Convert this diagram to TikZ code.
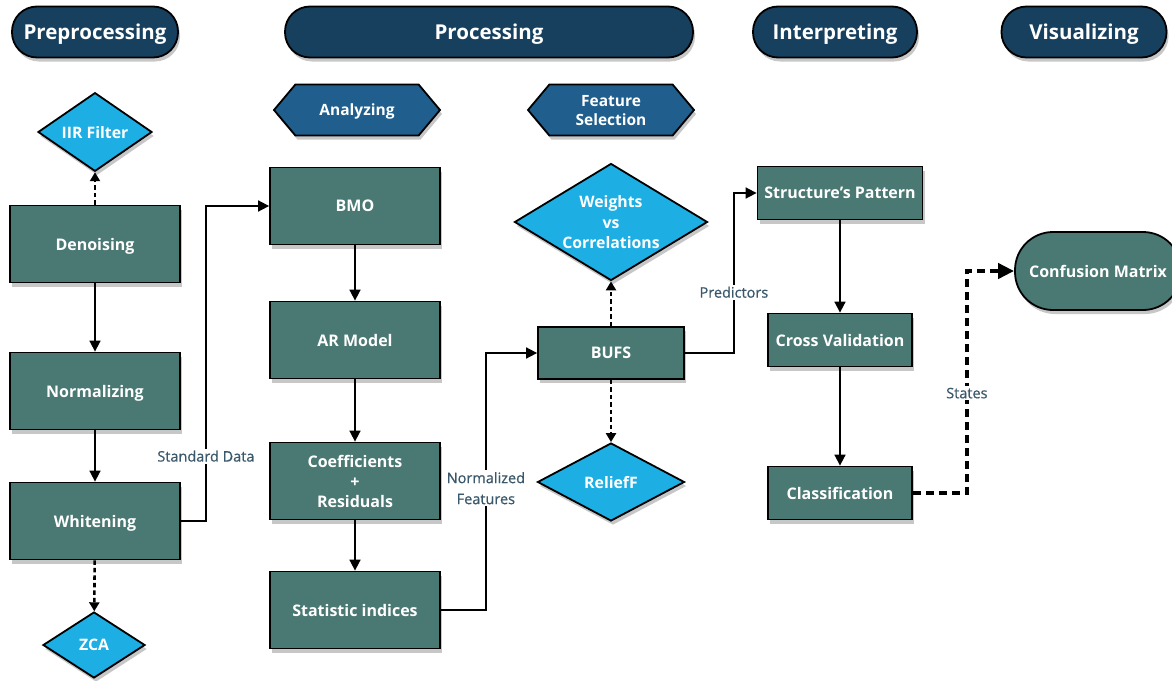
\documentclass[tikz,border=0pt]{standalone}
\usepackage{fontspec}
\setmainfont{Open Sans}
\newfontfamily\labfont{Open Sans}[FakeBold=0.6]
\usetikzlibrary{arrows.meta,shapes.geometric,shapes.symbols,shadows}
\definecolor{hdrnavy}{HTML}{17405F}
\definecolor{hexblue}{HTML}{1F5E8D}
\definecolor{skyb}{HTML}{1DAEE4}
\definecolor{boxteal}{HTML}{4A7873}
\definecolor{lblcol}{HTML}{3A586B}
\begin{document}
\begin{tikzpicture}[x=1pt,y=-1pt,
  shad/.style={drop shadow={shadow xshift=2pt,shadow yshift=-4pt,opacity=0.22,fill=black}},
  header/.style={draw=black,line width=1.8pt,fill=hdrnavy,rounded corners=25pt,minimum height=51pt,text=white,font=\bfseries\fontsize{20.5}{24}\selectfont,text depth=0pt,shad},
  hexa/.style={signal,signal to=west and east,signal pointer angle=100,draw=black,line width=1.8pt,fill=hexblue,minimum height=51pt,minimum width=166pt,text=white,font=\bfseries\fontsize{15.5}{19}\selectfont,align=center,text depth=0pt,shad,inner sep=1pt},
  dia/.style={diamond,draw=black,line width=1.8pt,fill=skyb,text=white,font=\bfseries\fontsize{15.8}{20.5}\selectfont,align=center,text depth=0pt,inner sep=0pt,shad},
  box/.style={rectangle,draw=black,line width=1.8pt,fill=boxteal,text=white,font=\bfseries\fontsize{16}{20}\selectfont,align=center,text depth=0pt,shad},
  pill/.style={box,rounded corners=38pt},
  flow/.style={line width=1.7pt,-{Triangle[length=11pt,width=11pt]}},
  dotflow/.style={line width=2.6pt,dash pattern=on 4.5pt off 3pt,-{Triangle[length=9pt,width=10pt]}},
  bigdash/.style={line width=4.5pt,dash pattern=on 8pt off 5pt,-{Triangle[length=16pt,width=15pt]}},
  lab/.style={fill=white,text=lblcol,font=\labfont\fontsize{14.5}{21}\selectfont,align=center,inner sep=2pt}
]
\useasboundingbox (0,0) rectangle (1172,680);
\fill[white] (0,0) rectangle (1172,680);

% headers
\node[header,minimum width=166pt] (prep) at (95,32) {Preprocessing};
\node[header,minimum width=408pt] (proc) at (489,32) {Processing};
\node[header,minimum width=164pt] (interp) at (835,32) {Interpreting};
\node[header,minimum width=165pt] (visu) at (1084,32) {Visualizing};

% hexagons
\node[hexa] (anal) at (357,110) {Analyzing};
\node[hexa] (fsel) at (611,110) {Feature\\Selection};

% diamonds
\node[dia,minimum width=114pt,minimum height=78pt] (iir) at (95,132) {IIR Filter};
\node[dia,minimum width=102pt,minimum height=66pt] (zca) at (94,645) {ZCA};
\node[dia,shape aspect=1.65,minimum width=193pt,minimum height=117pt] (wvc) at (611,222) {Weights\\vs\\Correlations};
\node[dia,minimum width=147pt,minimum height=78pt] (rel) at (611,482) {ReliefF};

% boxes
\node[box,minimum width=170pt,minimum height=77pt] (den) at (95,244) {Denoising};
\node[box,minimum width=170pt,minimum height=77pt] (nor) at (95,391) {Normalizing};
\node[box,minimum width=170pt,minimum height=77pt] (whi) at (95,521) {Whitening};
\node[box,minimum width=170pt,minimum height=77pt] (bmo) at (355,206) {BMO};
\node[box,minimum width=170pt,minimum height=77pt] (arm) at (355,340) {AR Model};
\node[box,minimum width=170pt,minimum height=77pt] (coef) at (355,481) {Coefficients\\+\\Residuals};
\node[box,minimum width=170pt,minimum height=77pt] (stat) at (355,610) {Statistic indices};
\node[box,minimum width=146pt,minimum height=52pt] (bufs) at (611,353) {BUFS};
\node[box,minimum width=165pt,minimum height=53pt] (spat) at (840,193) {Structure’s Pattern};
\node[box,minimum width=144pt,minimum height=53pt] (cval) at (840,340) {Cross Validation};
\node[box,minimum width=144pt,minimum height=53pt] (clas) at (840,493) {Classification};
\node[pill,minimum width=166pt,minimum height=78pt] (conf) at (1098,271) {Confusion Matrix};

% connectors
\draw[dotflow] (den) -- (iir);
\draw[flow] (den) -- (nor);
\draw[flow] (nor) -- (whi);
\draw[dotflow] (whi) -- (zca);
\draw[flow] (whi.east) -- ++(25,0) |- node[lab,pos=0.103] {Standard Data} (bmo.west);
\draw[flow] (bmo) -- (arm);
\draw[flow] (arm) -- (coef);
\draw[flow] (coef) -- (stat);
\draw[flow] (stat.east) -- ++(45,0) |- node[lab,pos=0.237] {Normalized\\Features} (bufs.west);
\draw[dotflow] (bufs) -- (wvc);
\draw[dotflow] (bufs) -- (rel);
\draw[flow] (bufs.east) -- ++(49,0) |- node[lab,pos=0.19] {Predictors} (spat.west);
\draw[flow] (spat) -- (cval);
\draw[flow] (cval) -- (clas);
\draw[bigdash] (clas.east) -- ++(54,0) |- node[lab,pos=0.225] {States} (conf.west);
\end{tikzpicture}
\end{document}
